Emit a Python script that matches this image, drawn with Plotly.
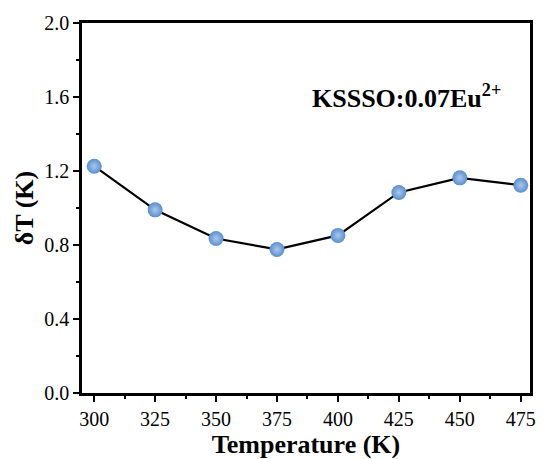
import plotly.graph_objects as go

temperature = [300, 325, 350, 375, 400, 425, 450, 475]
delta_t = [1.226, 0.990, 0.835, 0.776, 0.852, 1.084, 1.163, 1.123]
x_ticks = [300, 325, 350, 375, 400, 425, 450, 475]
y_ticks = [0.0, 0.4, 0.8, 1.2, 1.6, 2.0]
label = "KSSSO:0.07Eu<sup>2+</sup>"

FONT = "Liberation Serif, Times New Roman, serif"

fig = go.Figure()
fig.add_trace(go.Scatter(
    x=temperature, y=delta_t, mode="lines",
    line=dict(color="black", width=2.2),
    showlegend=False, hoverinfo="skip",
))
fig.add_trace(go.Scatter(
    x=temperature, y=delta_t, mode="markers",
    marker=dict(size=15, color="#5a8ecf",
                gradient=dict(type="radial", color="#a9c8ea"),
                line=dict(width=0)),
    showlegend=False,
))

fig.add_annotation(
    x=0.725, y=0.80, xref="paper", yref="paper",
    text="<b>" + label + "</b>", showarrow=False,
    font=dict(family=FONT, size=26, color="black"),
    xanchor="center", yanchor="middle",
)

axis_common = dict(
    showline=True, linecolor="black", linewidth=2.5, mirror=True,
    ticks="outside", tickwidth=2, ticklen=6, tickcolor="black",
    showgrid=False, zeroline=False,
    tickfont=dict(family=FONT, size=20, color="black"),
)

fig.update_xaxes(
    range=[295.0, 478.8], tickvals=x_ticks,
    ticktext=[str(v) for v in x_ticks],
    minor=dict(ticks="outside", ticklen=3, tickwidth=2, tickcolor="black",
               dtick=12.5, tick0=300),
    title=dict(text="<b>Temperature (K)</b>", font=dict(family=FONT, size=26, color="black"),
               standoff=2),
    **axis_common,
)
fig.update_yaxes(
    range=[0, 2.0], tickvals=y_ticks,
    ticktext=[f"{v:.1f}" for v in y_ticks],
    minor=dict(ticks="outside", ticklen=3, tickwidth=2, tickcolor="black",
               dtick=0.2, tick0=0),
    title=dict(text="<b>δT (K)</b>", font=dict(family=FONT, size=26, color="black"),
               standoff=4),
    **axis_common,
)

fig.update_layout(
    width=543, height=459,
    margin=dict(l=82, r=7, t=23, b=66),
    paper_bgcolor="white", plot_bgcolor="white",
)

fig.write_html("out.html", config={"displayModeBar": False},
               post_script="document.body.style.margin='0';document.body.style.padding='0';")
